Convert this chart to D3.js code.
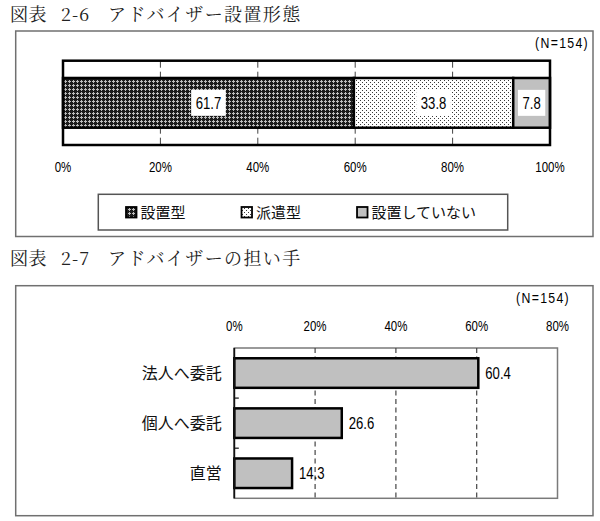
<!DOCTYPE html>
<html><head><meta charset="utf-8">
<script src="https://cdn.jsdelivr.net/npm/d3@7"></script>
<style>html,body{margin:0;padding:0;background:#fff;overflow:hidden}</style>
</head><body>
<svg id="c" width="600" height="521" xmlns="http://www.w3.org/2000/svg"></svg>
<script>
// ---- data ----
const figure1Title = ["図表", "2-6", "アドバイザー設置形態"];
const figure2Title = ["図表", "2-7", "アドバイザーの担い手"];
const sampleLabel = "(N=154)";
const typeCategories = ["設置型", "派遣型", "設置していない"];
const typeValues = [61.7, 33.8, 7.8];
const typeTicks = [0, 20, 40, 60, 80, 100];
const agentCategories = ["法人へ委託", "個人へ委託", "直営"];
const agentValues = [60.4, 26.6, 14.3];
const agentTicks = [0, 20, 40, 60, 80];

// ---- fonts ----
const CJK = '"Noto Sans CJK JP","Noto Sans CJK SC",sans-serif';
const SERIF = '"Noto Serif CJK JP","Noto Sans CJK JP",serif';
const NARROW = '"Liberation Sans Narrow","Arial Narrow","Liberation Sans",Arial,sans-serif';

const svg = d3.select("#c");

function measure(str, family, size) {
  const t = svg.append("text").attr("font-family", family).attr("font-size", size).text(str);
  const w = t.node().getComputedTextLength();
  t.remove();
  return w;
}
const narrowOK = measure("100%", '"Liberation Sans Narrow",monospace', 14) !== measure("100%", "monospace", 14);
function narrowify(sel) {
  if (narrowOK) return;
  sel.each(function () {
    const w = this.getComputedTextLength();
    d3.select(this).attr("textLength", w * 0.82).attr("lengthAdjust", "spacingAndGlyphs");
  });
}

// ---- patterns ----
const defs = svg.append("defs");
const p1 = defs.append("pattern").attr("id", "pat1").attr("patternUnits", "userSpaceOnUse")
  .attr("width", 4).attr("height", 4);
p1.append("rect").attr("width", 4).attr("height", 4).attr("fill", "#1c1c1c");
p1.append("rect").attr("x", 0).attr("y", 1).attr("width", 3).attr("height", 1).attr("fill", "#bdbdbd");
p1.append("rect").attr("x", 1).attr("y", 0).attr("width", 1).attr("height", 3).attr("fill", "#bdbdbd");
const p2 = defs.append("pattern").attr("id", "pat2").attr("patternUnits", "userSpaceOnUse")
  .attr("width", 4).attr("height", 4);
p2.append("rect").attr("width", 4).attr("height", 4).attr("fill", "#ffffff");
p2.append("rect").attr("x", 0).attr("y", 0).attr("width", 1).attr("height", 1).attr("fill", "#3a3a3a");
p2.append("rect").attr("x", 2).attr("y", 2).attr("width", 1).attr("height", 1).attr("fill", "#3a3a3a");
const typeFills = ["url(#pat1)", "url(#pat2)", "#c0c0c0"];

// ---- titles ----
function drawTitle(parts, cy) {
  const g = svg.append("g").attr("font-family", SERIF).attr("font-size", 18).attr("fill", "#222");
  g.append("text").attr("x", 10).attr("y", cy).attr("dy", "0.35em").attr("letter-spacing", 0.5).text(parts[0]);
  g.append("text").attr("x", 61).attr("y", cy).attr("dy", "0.35em").attr("letter-spacing", 1).text(parts[1]);
  g.append("text").attr("x", 108).attr("y", cy).attr("dy", "0.35em").attr("letter-spacing", 1.4).text(parts[2]);
}
drawTitle(figure1Title, 14.6);
drawTitle(figure2Title, 258.3);

// ---- outer frames ----
svg.append("rect").attr("x", 15.7).attr("y", 31).attr("width", 577.3).attr("height", 205.5)
  .attr("fill", "none").attr("stroke", "#707070").attr("stroke-width", 1.5);
svg.append("rect").attr("x", 15.7).attr("y", 285.7).attr("width", 577.3).attr("height", 230)
  .attr("fill", "none").attr("stroke", "#707070").attr("stroke-width", 1.5);

function drawN(xEnd, cy) {
  const t = svg.append("text").attr("x", xEnd).attr("y", cy).attr("dy", "0.36em")
    .attr("text-anchor", "end").attr("font-family", NARROW).attr("font-size", 15)
    .attr("letter-spacing", 1.6).text(sampleLabel);
  narrowify(t);
}
drawN(589, 42.7);
drawN(570, 297.3);

// ================= Figure 2-6 =================
const x1 = d3.scaleLinear().domain([0, 100]).range([63, 550]);
const y1 = d3.scaleBand().domain(["all"]).range([60.7, 145]).paddingInner(0.41).paddingOuter(0.205);

const row = {};
typeCategories.forEach((c, i) => row[c] = typeValues[i]);
const stacked = d3.stack().keys(typeCategories).offset(d3.stackOffsetExpand)([row]);

const g1 = svg.append("g");
g1.append("rect").attr("x", x1(0)).attr("y", 60.7).attr("width", x1(100) - x1(0)).attr("height", 145 - 60.7)
  .attr("fill", "#fff");
g1.selectAll("line.grid").data(typeTicks.filter(t => t > 0 && t < 100)).join("line")
  .attr("x1", d => x1(d)).attr("x2", d => x1(d)).attr("y1", 60.7).attr("y2", 145)
  .attr("stroke", "#444").attr("stroke-width", 1).attr("stroke-dasharray", "7,4");

const segs = stacked.map((s, i) => ({
  key: s.key, value: typeValues[i], x0: x1(s[0][0] * 100), x1: x1(s[0][1] * 100), fill: typeFills[i]
}));
g1.selectAll("rect.seg").data(segs).join("rect")
  .attr("x", d => d.x0).attr("width", d => d.x1 - d.x0)
  .attr("y", y1("all")).attr("height", y1.bandwidth())
  .attr("fill", d => d.fill).attr("stroke", "#000").attr("stroke-width", 2.5);

// plot border
g1.append("rect").attr("x", x1(0)).attr("y", 60.7).attr("width", x1(100) - x1(0)).attr("height", 145 - 60.7)
  .attr("fill", "none").attr("stroke", "#000").attr("stroke-width", 2.5);

// value labels with white boxes
const cyBar = y1("all") + y1.bandwidth() / 2;
segs.forEach(d => {
  const cx = (d.x0 + d.x1) / 2;
  const t = g1.append("text").attr("x", cx).attr("y", cyBar).attr("dy", "0.36em")
    .attr("text-anchor", "middle").attr("font-family", NARROW).attr("font-size", 16)
    .attr("fill", "#000").text(d.value.toFixed(1));
  narrowify(t);
  const bb = t.node().getBBox();
  g1.insert("rect", () => t.node()).attr("x", cx - bb.width / 2 - 4.5).attr("y", cyBar - 13)
    .attr("width", bb.width + 9).attr("height", 26).attr("fill", "#fff");
});

// x tick labels
const ax1 = g1.selectAll("text.tick").data(typeTicks).join("text").attr("class", "tick")
  .attr("x", d => x1(d)).attr("y", 166.7).attr("dy", "0.36em").attr("text-anchor", "middle")
  .attr("font-family", NARROW).attr("font-size", 14).attr("fill", "#000").text(d => d + "%");
narrowify(ax1);

// legend
svg.append("rect").attr("x", 98.3).attr("y", 194.3).attr("width", 409.4).attr("height", 35.7)
  .attr("fill", "#fff").attr("stroke", "#555").attr("stroke-width", 1.5);
let lx = 126;
typeCategories.forEach((c, i) => {
  svg.append("rect").attr("x", lx).attr("y", 207).attr("width", 10.5).attr("height", 10.5)
    .attr("fill", typeFills[i]).attr("stroke", "#000").attr("stroke-width", 1.8);
  const t = svg.append("text").attr("x", lx + 14.5).attr("y", 212.3).attr("dy", "0.36em")
    .attr("font-family", CJK).attr("font-size", 15).attr("fill", "#111").text(c);
  lx += 14.5 + t.node().getComputedTextLength() + 56;
});

// ================= Figure 2-7 =================
const x2 = d3.scaleLinear().domain([0, 80]).range([234.3, 557.5]);
const y2 = d3.scaleBand().domain(agentCategories).range([348, 498.3]).paddingInner(0.41).paddingOuter(0.205);
const g2 = svg.append("g");
const [py0, py1] = y2.range();

g2.append("rect").attr("x", x2(0)).attr("y", py0).attr("width", x2(80) - x2(0)).attr("height", py1 - py0)
  .attr("fill", "#fff").attr("stroke", "#7a7a7a").attr("stroke-width", 1.5);
g2.selectAll("line.grid").data(agentTicks.filter(t => t > 0 && t < 80)).join("line")
  .attr("x1", d => x2(d)).attr("x2", d => x2(d)).attr("y1", py0).attr("y2", py1)
  .attr("stroke", "#444").attr("stroke-width", 1.2).attr("stroke-dasharray", "5,3.5");

// category boundary ticks
const bounds = agentCategories.slice(1).map(c => y2(c) - y2.step() * y2.paddingInner() / 2);
g2.selectAll("line.ct").data(bounds).join("line")
  .attr("x1", x2(0)).attr("x2", x2(0) + 4.5).attr("y1", d => d).attr("y2", d => d)
  .attr("stroke", "#222").attr("stroke-width", 1.3);

g2.selectAll("rect.bar").data(agentValues).join("rect")
  .attr("x", x2(0)).attr("y", (d, i) => y2(agentCategories[i]))
  .attr("width", d => x2(d) - x2(0)).attr("height", y2.bandwidth())
  .attr("fill", "#c0c0c0").attr("stroke", "#000").attr("stroke-width", 2.5);

// left axis line
g2.append("line").attr("x1", x2(0)).attr("x2", x2(0)).attr("y1", py0).attr("y2", py1)
  .attr("stroke", "#111").attr("stroke-width", 1.8);

const vl = g2.selectAll("text.val").data(agentValues).join("text")
  .attr("x", d => x2(d) + 7).attr("y", (d, i) => y2(agentCategories[i]) + y2.bandwidth() / 2)
  .attr("dy", "0.36em").attr("font-family", NARROW).attr("font-size", 16).attr("fill", "#000")
  .text(d => d.toFixed(1));
narrowify(vl);

g2.selectAll("text.cat").data(agentCategories).join("text")
  .attr("x", 221.7).attr("y", d => y2(d) + y2.bandwidth() / 2).attr("dy", "0.36em")
  .attr("text-anchor", "end").attr("font-family", CJK).attr("font-size", 16).attr("fill", "#111")
  .text(d => d);

const ax2 = g2.selectAll("text.tick").data(agentTicks).join("text")
  .attr("x", d => x2(d)).attr("y", 325.7).attr("dy", "0.36em").attr("text-anchor", "middle")
  .attr("font-family", NARROW).attr("font-size", 14).attr("fill", "#000").text(d => d + "%");
narrowify(ax2);
</script>
</body></html>
